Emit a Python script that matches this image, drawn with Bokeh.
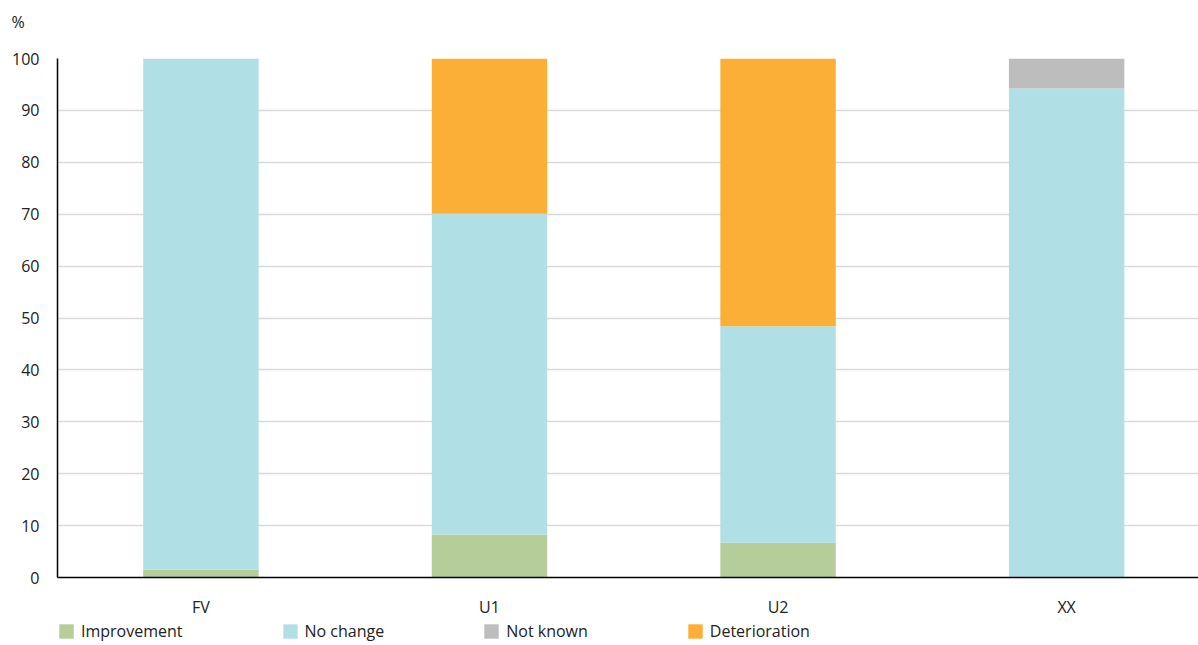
from bokeh.plotting import figure
from bokeh.models import ColumnDataSource, Range1d, FixedTicker, Legend, LegendItem, Title
from bokeh.layouts import column
from bokeh.embed import file_html
from bokeh.resources import INLINE

categories = ["FV", "U1", "U2", "XX"]
improvement = [1.5, 8.3, 6.7, 0.0]
no_change = [98.5, 61.8, 41.7, 94.2]
not_known = [0.0, 0.0, 0.0, 5.8]
deterioration = [0.0, 29.9, 51.6, 0.0]

series = ["improvement", "no_change", "not_known", "deterioration"]
labels = ["Improvement", "No change", "Not known", "Deterioration"]
colors = ["#b5cd98", "#b0e0e6", "#bdbdbe", "#fbaf37"]

FONT = "Open Sans"

src = ColumnDataSource(dict(
    x=list(range(len(categories))),
    improvement=improvement,
    no_change=no_change,
    not_known=not_known,
    deterioration=deterioration,
))

p = figure(width=1198, height=620, output_backend="svg", toolbar_location=None,
           x_range=Range1d(-0.497, 3.457), y_range=Range1d(0, 100),
           min_border_left=57, min_border_right=0, min_border_top=58, min_border_bottom=43)

p.vbar_stack(series, x="x", width=0.4, source=src, color=colors, line_color=None)

p.add_layout(Title(text=" ", text_font_size="7px", text_font=FONT), "above")
p.add_layout(Title(text="%", text_font=FONT, text_font_size="16px", text_font_style="normal",
                   text_color="#222222", align="left", offset=-46), "above")

p.outline_line_color = None
p.xgrid.grid_line_color = None
p.ygrid.grid_line_color = "#d9d9d9"
p.ygrid.grid_line_width = 1.5
p.yaxis.ticker = FixedTicker(ticks=list(range(0, 101, 10)))
p.xaxis.ticker = FixedTicker(ticks=list(range(len(categories))))
p.xaxis.major_label_overrides = {i: c for i, c in enumerate(categories)}

for ax in (p.xaxis[0], p.yaxis[0]):
    ax.axis_line_color = "black"
    ax.axis_line_width = 1.5
    ax.major_tick_line_color = None
    ax.minor_tick_line_color = None
    ax.major_label_text_font = FONT
    ax.major_label_text_font_size = "16px"
    ax.major_label_text_color = "#222222"
p.yaxis.major_label_standoff = 12
p.xaxis.major_label_standoff = 12

# legend strip: same series, drawn out of view so only the legend shows
lg = figure(width=1198, height=25, output_backend="svg", toolbar_location=None,
            x_range=Range1d(-101, -100), y_range=Range1d(-101, -100),
            x_axis_location=None, y_axis_location=None,
            min_border_left=0, min_border_right=0, min_border_top=0, min_border_bottom=0)
lg_renderers = lg.vbar_stack(series, x="x", width=0.4, source=src, color=colors, line_color=None)
lg.grid.grid_line_color = None
lg.outline_line_color = None

legend = Legend(items=[LegendItem(label=l, renderers=[r]) for l, r in zip(labels, lg_renderers)],
                orientation="horizontal", location=(0, 3),
                glyph_width=18, glyph_height=18, label_standoff=6, label_height=18,
                label_text_font=FONT, label_text_font_size="16px", label_text_color="#222222",
                spacing=98, padding=0, margin=0,
                border_line_color=None, background_fill_alpha=0)
lg.add_layout(legend, "center")

layout = column(p, lg, spacing=0)
open("out.html", "w").write(file_html(layout, INLINE))
